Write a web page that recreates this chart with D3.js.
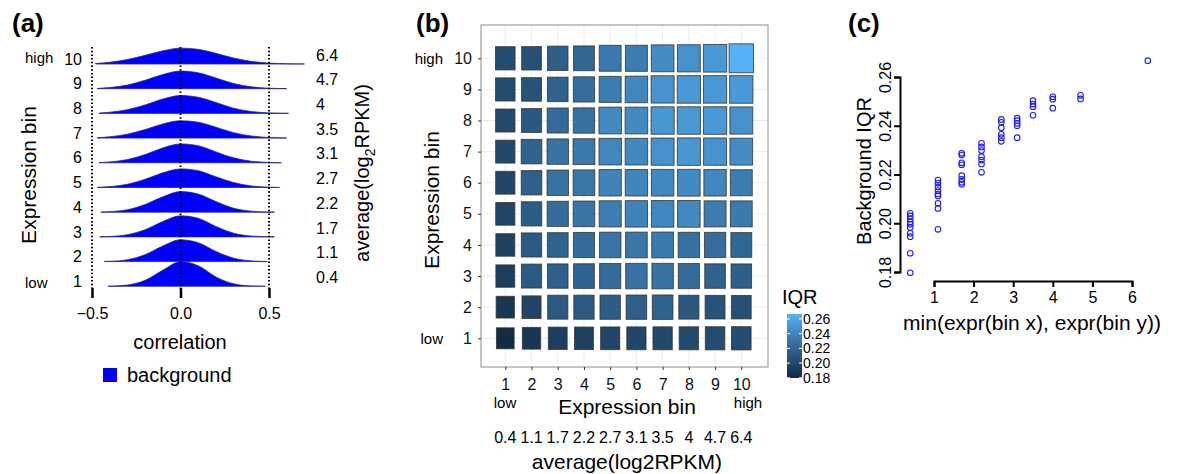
<!DOCTYPE html>
<html>
<head>
<meta charset="utf-8">
<script src="https://cdn.jsdelivr.net/npm/d3@7"></script>
<style>
  body { margin: 0; background: #fff; }
  svg { font-family: "Liberation Sans", Arial, sans-serif; }
</style>
</head>
<body>
<svg id="fig" width="1178" height="474"></svg>
<script>
// ---- data ----
var bins = [1, 2, 3, 4, 5, 6, 7, 8, 9, 10];
var avgExpr = [0.4, 1.1, 1.7, 2.2, 2.7, 3.1, 3.5, 4, 4.7, 6.4];
var exprLabels = ["0.4", "1.1", "1.7", "2.2", "2.7", "3.1", "3.5", "4", "4.7", "6.4"];

// background correlation density per bin, [correlation, density height] (height in row units)
var dens1 = [[-0.41,0.004],[-0.3,0.05],[-0.2,0.24],[-0.1,0.65],[0,0.99],[0.1,0.83],[0.2,0.38],[0.3,0.10],[0.4,0.014],[0.48,0.002]];
var dens2 = [[-0.43,0.01],[-0.4,0.013],[-0.3,0.078],[-0.2,0.28],[-0.1,0.63],[0,0.88],[0.1,0.76],[0.2,0.41],[0.3,0.14],[0.4,0.03],[0.49,0.004]];
var dens3 = [[-0.456,0.005],[-0.4,0.017],[-0.3,0.089],[-0.2,0.29],[-0.1,0.62],[0,0.85],[0.1,0.75],[0.2,0.42],[0.3,0.15],[0.4,0.034],[0.5,0.005],[0.53,0.003]];
var dens4 = [[-0.45,0.006],[-0.4,0.021],[-0.3,0.10],[-0.2,0.31],[-0.1,0.62],[0,0.83],[0.1,0.73],[0.2,0.43],[0.3,0.16],[0.4,0.042],[0.5,0.007],[0.53,0.004]];
var dens5 = [[-0.47,0.006],[-0.4,0.036],[-0.3,0.13],[-0.2,0.33],[-0.1,0.59],[0,0.75],[0.1,0.68],[0.2,0.43],[0.3,0.20],[0.4,0.062],[0.5,0.014],[0.56,0.003]];
var dens6 = [[-0.46,0.008],[-0.4,0.036],[-0.3,0.13],[-0.2,0.33],[-0.1,0.60],[0,0.76],[0.1,0.69],[0.2,0.44],[0.3,0.20],[0.4,0.063],[0.5,0.015],[0.57,0.003]];
var dens7 = [[-0.47,0.01],[-0.4,0.053],[-0.3,0.157],[-0.2,0.345],[-0.1,0.57],[0,0.70],[0.1,0.64],[0.2,0.44],[0.3,0.22],[0.4,0.085],[0.5,0.024],[0.6,0.005]];
var dens8 = [[-0.46,0.012],[-0.4,0.048],[-0.3,0.15],[-0.2,0.34],[-0.1,0.58],[0,0.72],[0.1,0.65],[0.2,0.44],[0.3,0.21],[0.4,0.078],[0.5,0.021],[0.61,0.003]];
var dens9 = [[-0.47,0.01],[-0.4,0.047],[-0.3,0.146],[-0.2,0.34],[-0.1,0.57],[0,0.71],[0.1,0.64],[0.2,0.43],[0.3,0.21],[0.4,0.077],[0.5,0.02],[0.6,0.004]];
var dens10 = [[-0.48,0.02],[-0.4,0.07],[-0.3,0.18],[-0.2,0.35],[-0.1,0.53],[0,0.64],[0.1,0.59],[0.2,0.43],[0.3,0.24],[0.4,0.105],[0.5,0.036],[0.6,0.01],[0.7,0.002]];
var densities = [dens1, dens2, dens3, dens4, dens5, dens6, dens7, dens8, dens9, dens10];

// background IQR, upper triangle: row k holds bins j = k..10
var iqrUpper = [
  [0.1797, 0.1877, 0.1945, 0.1959, 0.1983, 0.1996, 0.2005, 0.2017, 0.2030, 0.2041],
  [0.1975, 0.2120, 0.2134, 0.2149, 0.2165, 0.2177, 0.2112, 0.2082, 0.2061],
  [0.2168, 0.2195, 0.2248, 0.2280, 0.2287, 0.2240, 0.2180, 0.2160],
  [0.2243, 0.2298, 0.2313, 0.2328, 0.2273, 0.2259, 0.2209],
  [0.2365, 0.2392, 0.2414, 0.2426, 0.2351, 0.2336],
  [0.2400, 0.2421, 0.2431, 0.2410, 0.2351],
  [0.2478, 0.2503, 0.2489, 0.2443],
  [0.2509, 0.2519, 0.2472],
  [0.2510, 0.2525],
  [0.2667]
];
var iqrTicks = [0.18, 0.20, 0.22, 0.24, 0.26];

// build cells (symmetric) and scatter points from the table
var cells = [], points = [];
iqrUpper.forEach(function(row, k) {
  row.forEach(function(v, n) {
    var j = k + n;
    cells.push({x: k + 1, y: j + 1, v: v});
    if (j != k) cells.push({x: j + 1, y: k + 1, v: v});
    points.push({x: avgExpr[k], v: v});
  });
});

var svg = d3.select("#fig");

function txt(x, y, s, size, anchor) {
  return svg.append("text").attr("x", x).attr("y", y).attr("dy", "0.35em")
    .attr("font-size", size).attr("text-anchor", anchor || "middle").text(s);
}

// panel letters
[["(a)", 12], ["(b)", 416], ["(c)", 848]].forEach(function(p) {
  svg.append("text").attr("x", p[1]).attr("y", 32).attr("font-size", 26)
    .attr("font-weight", "bold").text(p[0]);
});

// ======== (a) ridges ========
var xA = d3.scaleLinear().domain([-0.5, 0.5]).range([92, 269]);
var yA = d3.scaleLinear().domain([1, 10]).range([286.3, 64]);
var rowH = 24.8;

bins.slice().reverse().forEach(function(b) {
  var base = yA(b);
  var area = d3.area()
    .x(function(d) { return xA(d[0]); })
    .y0(base)
    .y1(function(d) { return base - d[1] * rowH; })
    .curve(d3.curveMonotoneX);
  svg.append("path").datum(densities[b - 1]).attr("d", area)
    .attr("fill", "#0000ff").attr("stroke", "#26268a").attr("stroke-width", 0.8);
  txt(82, base - 5, b, 16, "end");
  txt(316, base - 9, exprLabels[b - 1], 16, "start");
});
txt(25, yA(10) - 6, "high", 15, "start");
txt(25, yA(1) - 4, "low", 15, "start");

// dotted guides sit on top of the ridges
[-0.5, 0, 0.5].forEach(function(v) {
  svg.append("line").attr("x1", xA(v)).attr("x2", xA(v)).attr("y1", 47).attr("y2", 290)
    .attr("stroke", "#000").attr("stroke-width", 2).attr("stroke-dasharray", "1.5,2.2");
});

var axA = svg.append("g").attr("transform", "translate(0,288)")
  .call(d3.axisBottom(xA).tickValues([-0.5, 0, 0.5]).tickSize(10).tickPadding(10)
    .tickFormat(function(d) { return d3.format(".1f")(d).replace("-", "\u2212"); }));
axA.select(".domain").remove();
axA.selectAll(".tick line").attr("stroke-width", 2.5);
axA.selectAll("text").attr("font-size", 16).attr("font-family", "Liberation Sans");

txt(180, 342, "correlation", 20);
svg.append("rect").attr("x", 103).attr("y", 368).attr("width", 14).attr("height", 14).attr("fill", "#0000ff");
txt(127, 375, "background", 20, "start");

svg.append("text").attr("transform", "translate(29,175) rotate(-90)")
  .attr("text-anchor", "middle").attr("dy", "0.35em").attr("font-size", 21).text("Expression bin");
var avgLab = svg.append("text").attr("transform", "translate(362,173) rotate(-90)")
  .attr("text-anchor", "middle").attr("dy", "0.35em").attr("font-size", 20);
avgLab.append("tspan").text("average(log");
avgLab.append("tspan").attr("font-size", 14).attr("dy", "0.45em").text("2");
avgLab.append("tspan").attr("dy", "-0.3em").text("RPKM)");

// ======== (b) heatmap ========
var box = {x0: 481, x1: 768, y0: 25, y1: 367};
var xB = d3.scaleLinear().domain([1, 10]).range([505.3, 741.3]);
var yB = d3.scaleLinear().domain([1, 10]).range([338.3, 58.3]);
var iqrExtent = d3.extent(cells, function(d) { return d.v; });
var color = d3.scaleLinear().domain(iqrExtent).range(["#132B43", "#56B1F7"]).interpolate(d3.interpolateLab);
var sizeB = d3.scaleLinear().domain(iqrExtent).range([0.675, 0.93]);
var cw = xB(2) - xB(1), ch = yB(1) - yB(2);

svg.append("rect").attr("x", box.x0).attr("y", box.y0).attr("width", box.x1 - box.x0)
  .attr("height", box.y1 - box.y0).attr("fill", "#fff");
bins.forEach(function(b) {
  svg.append("line").attr("x1", xB(b)).attr("x2", xB(b)).attr("y1", box.y0).attr("y2", box.y1)
    .attr("stroke", "#ececec").attr("stroke-width", 1);
  svg.append("line").attr("y1", yB(b)).attr("y2", yB(b)).attr("x1", box.x0).attr("x2", box.x1)
    .attr("stroke", "#ececec").attr("stroke-width", 1);
});
svg.selectAll(".tile").data(cells).enter().append("rect")
  .attr("class", "tile")
  .attr("x", function(d) { return xB(d.x) - sizeB(d.v) * cw / 2; })
  .attr("y", function(d) { return yB(d.y) - sizeB(d.v) * ch / 2; })
  .attr("width", function(d) { return sizeB(d.v) * cw; })
  .attr("height", function(d) { return sizeB(d.v) * ch; })
  .attr("fill", function(d) { return color(d.v); })
  .attr("stroke", "#333").attr("stroke-opacity", 0.8).attr("stroke-width", 1);
svg.append("rect").attr("x", box.x0).attr("y", box.y0).attr("width", box.x1 - box.x0)
  .attr("height", box.y1 - box.y0).attr("fill", "none").attr("stroke", "#8c8c8c");

var axBx = svg.append("g").attr("transform", "translate(0," + box.y1 + ")")
  .call(d3.axisBottom(xB).tickValues(bins).tickSize(3).tickPadding(6));
var axBy = svg.append("g").attr("transform", "translate(" + box.x0 + ",0)")
  .call(d3.axisLeft(yB).tickValues(bins).tickSize(3).tickPadding(6));
[axBx, axBy].forEach(function(a) {
  a.select(".domain").remove();
  a.selectAll(".tick line").attr("stroke", "#333");
  a.selectAll("text").attr("font-size", 16).attr("fill", "#111").attr("font-family", "Liberation Sans");
});
axBx.selectAll("text").attr("dy", "0.9em");
txt(443, yB(10), "high", 15, "end");
txt(443, yB(1), "low", 15, "end");
txt(505, 403, "low", 15);
txt(748, 403, "high", 15);
txt(627, 407, "Expression bin", 21);
bins.forEach(function(b) { txt(xB(b), 437, exprLabels[b - 1], 16); });
txt(627, 462, "average(log2RPKM)", 21);
svg.append("text").attr("transform", "translate(432,200) rotate(-90)")
  .attr("text-anchor", "middle").attr("dy", "0.35em").attr("font-size", 21).text("Expression bin");

// colour bar
var yLeg = d3.scaleLinear().domain(iqrExtent).range([378, 314]);
var grad = svg.append("defs").append("linearGradient").attr("id", "iqrGrad")
  .attr("x1", 0).attr("x2", 0).attr("y1", 1).attr("y2", 0);
d3.range(0, 1.001, 0.1).forEach(function(t) {
  grad.append("stop").attr("offset", t)
    .attr("stop-color", color(iqrExtent[0] + t * (iqrExtent[1] - iqrExtent[0])));
});
svg.append("rect").attr("x", 787).attr("y", 314).attr("width", 15).attr("height", 64).attr("fill", "url(#iqrGrad)");
iqrTicks.forEach(function(t) {
  svg.append("line").attr("x1", 787).attr("x2", 790).attr("y1", yLeg(t)).attr("y2", yLeg(t)).attr("stroke", "#fff");
  svg.append("line").attr("x1", 799).attr("x2", 802).attr("y1", yLeg(t)).attr("y2", yLeg(t)).attr("stroke", "#fff");
  txt(803, yLeg(t), d3.format(".2f")(t), 14, "start");
});
txt(782, 297, "IQR", 20, "start");

// ======== (c) scatter ========
var xC = d3.scaleLinear().domain([1, 6]).range([934, 1132]);
var yC = d3.scaleLinear().domain([0.18, 0.26]).range([272, 77]);

var axCx = svg.append("g").attr("transform", "translate(0,281)")
  .call(d3.axisBottom(xC).tickValues([1, 2, 3, 4, 5, 6]).tickFormat(d3.format("d"))
    .tickSizeOuter(0).tickSize(6).tickPadding(5));
var axCy = svg.append("g").attr("transform", "translate(900,0)")
  .call(d3.axisLeft(yC).tickValues(iqrTicks).tickSizeOuter(0).tickSize(6).tickFormat(d3.format(".2f")));
[axCx, axCy].forEach(function(a) {
  a.select(".domain").attr("stroke-width", 2);
  a.selectAll(".tick line").attr("stroke-width", 2);
  a.selectAll("text").attr("font-size", 16).attr("font-family", "Liberation Sans");
});
axCy.selectAll(".tick text").attr("x", null).attr("dy", "0.35em").attr("text-anchor", "middle")
  .attr("transform", "translate(-15,0) rotate(-90)");

svg.selectAll(".pt").data(points).enter().append("circle")
  .attr("class", "pt")
  .attr("cx", function(d) { return xC(d.x); })
  .attr("cy", function(d) { return yC(d.v); })
  .attr("r", 2.8).attr("fill", "none").attr("stroke", "#1f1fff").attr("stroke-width", 1.1);

txt(1032, 323, "min(expr(bin x), expr(bin y))", 21);
svg.append("text").attr("transform", "translate(864,171) rotate(-90)")
  .attr("text-anchor", "middle").attr("dy", "0.35em").attr("font-size", 20).text("Background IQR");
</script>
</body>
</html>
